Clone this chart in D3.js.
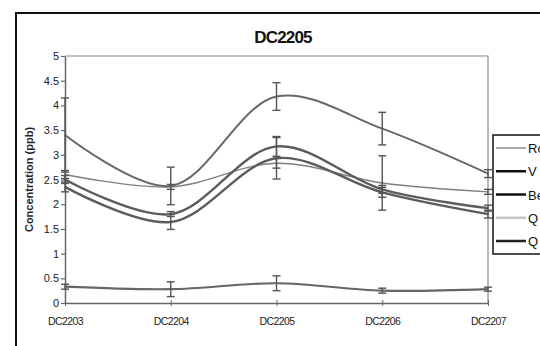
<!DOCTYPE html>
<html>
<head>
<meta charset="utf-8">
<script src="https://cdn.jsdelivr.net/npm/d3@7"></script>
<style>
  body { margin: 0; background: #fff; overflow: hidden; }
  svg { display: block; font-family: Arial, "Liberation Sans", sans-serif; }
</style>
</head>
<body>
<svg id="chart" width="540" height="346"></svg>
<script>
// Data
const categories = ["DC2203", "DC2204", "DC2205", "DC2206", "DC2207"];
const seriesNames = ["Ro", "V", "Be", "Q", "Q"];
const roValues = [2.6, 2.35, 2.83, 2.43, 2.25];
const vValues = [2.5, 1.8, 3.17, 2.3, 1.92];
const beValues = [2.35, 1.64, 2.93, 2.24, 1.8];
const qValues = [3.4, 2.37, 4.18, 3.53, 2.62];
const q2Values = [0.33, 0.28, 0.4, 0.25, 0.28];
const roErr = [0.08, 0.05, 0.1, 0.55, 0.05];
const vErr = [0.08, 0.05, 0.2, 0.08, 0.06];
const beErr = [0.1, 0.15, 0.42, 0.1, 0.08];
const qErr = [0.75, 0.38, 0.28, 0.33, 0.08];
const q2Err = [0.05, 0.15, 0.15, 0.05, 0.04];
const yTicks = [0, 0.5, 1, 1.5, 2, 2.5, 3, 3.5, 4, 4.5, 5];

let series = [
    { name: seriesNames[0], values: roValues, err: roErr, line: "#808080", w: 1.4, key: "#8c8c8c" },
    { name: seriesNames[1], values: vValues, err: vErr, line: "#5c5c5c", w: 2.4, key: "#111" },
    { name: seriesNames[2], values: beValues, err: beErr, line: "#5c5c5c", w: 2.4, key: "#111" },
    { name: seriesNames[3], values: qValues, err: qErr, line: "#686868", w: 2, key: "#c4c4c4" },
    { name: seriesNames[4], values: q2Values, err: q2Err, line: "#666", w: 2.2, key: "#222" }
];

const svg = d3.select("#chart");
const plot = { left: 65, right: 488, top: 56, bottom: 303 };

let x = d3.scalePoint().domain(categories).range([plot.left, plot.right]);
let y = d3.scaleLinear().domain([0, 5]).range([plot.bottom, plot.top]);

// outer chart frame (runs off the page right and bottom)
svg.append("rect")
    .attr("x", 16).attr("y", 13).attr("width", 560).attr("height", 360)
    .attr("fill", "none").attr("stroke", "#111").attr("stroke-width", 2);

// title
svg.append("text")
    .attr("x", 283).attr("y", 43)
    .attr("text-anchor", "middle")
    .attr("font-size", 17).attr("font-weight", "bold")
    .attr("letter-spacing", -0.8)
    .attr("fill", "#111")
    .text("DC2205");

// plot area border (top and right)
svg.append("path")
    .attr("d", `M${plot.left},${plot.top}H${plot.right}V${plot.bottom}`)
    .attr("fill", "none").attr("stroke", "#8a8a8a").attr("stroke-width", 1.2);

// y axis
let yAxis = svg.append("g")
    .attr("transform", `translate(${plot.left},0)`)
    .call(d3.axisLeft(y).tickValues(yTicks).tickSize(4).tickSizeOuter(0)
        .tickFormat(d => String(d)));
yAxis.select(".domain").attr("stroke", "#666").attr("stroke-width", 1.5);
yAxis.selectAll(".tick line").attr("stroke", "#666").attr("stroke-width", 1.2);
yAxis.selectAll(".tick text")
    .attr("font-size", 11).attr("fill", "#222").attr("font-family", "Arial, sans-serif")
    .attr("x", -6);

// x axis
let xAxis = svg.append("g")
    .attr("transform", `translate(0,${plot.bottom})`)
    .call(d3.axisBottom(x).tickSize(3).tickSizeOuter(0));
xAxis.select(".domain").attr("stroke", "#666").attr("stroke-width", 1.5);
xAxis.selectAll(".tick line").attr("stroke", "#666").attr("y1", -3).attr("y2", 3);
xAxis.selectAll(".tick text")
    .attr("font-size", 10.5).attr("fill", "#222").attr("font-family", "Arial, sans-serif")
    .attr("letter-spacing", -0.6)
    .attr("y", 15);

// y axis title
svg.append("text")
    .attr("transform", `translate(33,${(plot.top + plot.bottom) / 2}) rotate(-90)`)
    .attr("text-anchor", "middle")
    .attr("font-size", 11).attr("font-weight", "bold").attr("fill", "#222")
    .text("Concentration (ppb)");

// smoothed lines, Excel style
let line = d3.line()
    .x((d, i) => x(categories[i]))
    .y(d => y(d))
    .curve(d3.curveCatmullRom.alpha(0.5));

let lines = svg.append("g");
series.forEach(function (s) {
    lines.append("path")
        .attr("d", line(s.values))
        .attr("fill", "none")
        .attr("stroke", s.line)
        .attr("stroke-width", s.w);
});

// error bars
let bars = svg.append("g").attr("stroke", "#555").attr("stroke-width", 1.4);
series.forEach(function (s) {
    s.values.forEach(function (v, i) {
        let cx = x(categories[i]);
        let hi = y(v + s.err[i]), lo = y(v - s.err[i]);
        bars.append("line").attr("x1", cx).attr("x2", cx).attr("y1", hi).attr("y2", lo);
        bars.append("line").attr("x1", cx - 4).attr("x2", cx + 4).attr("y1", hi).attr("y2", hi);
        bars.append("line").attr("x1", cx - 4).attr("x2", cx + 4).attr("y1", lo).attr("y2", lo);
    });
});

// legend (cut off by the page edge)
let legend = svg.append("g");
legend.append("rect")
    .attr("x", 493).attr("y", 135).attr("width", 80).attr("height", 119)
    .attr("fill", "#fff").attr("stroke", "#111").attr("stroke-width", 1.5);
let ly = d3.scalePoint().domain(d3.range(series.length)).range([148, 241]);
series.forEach(function (s, i) {
    legend.append("line")
        .attr("x1", 496).attr("x2", 526)
        .attr("y1", ly(i)).attr("y2", ly(i))
        .attr("stroke", s.key).attr("stroke-width", i === 0 ? 1.5 : 2.5);
    legend.append("text")
        .attr("x", 528).attr("y", ly(i) + 5)
        .attr("font-size", 13).attr("fill", "#111")
        .text(s.name);
});
</script>
</body>
</html>
